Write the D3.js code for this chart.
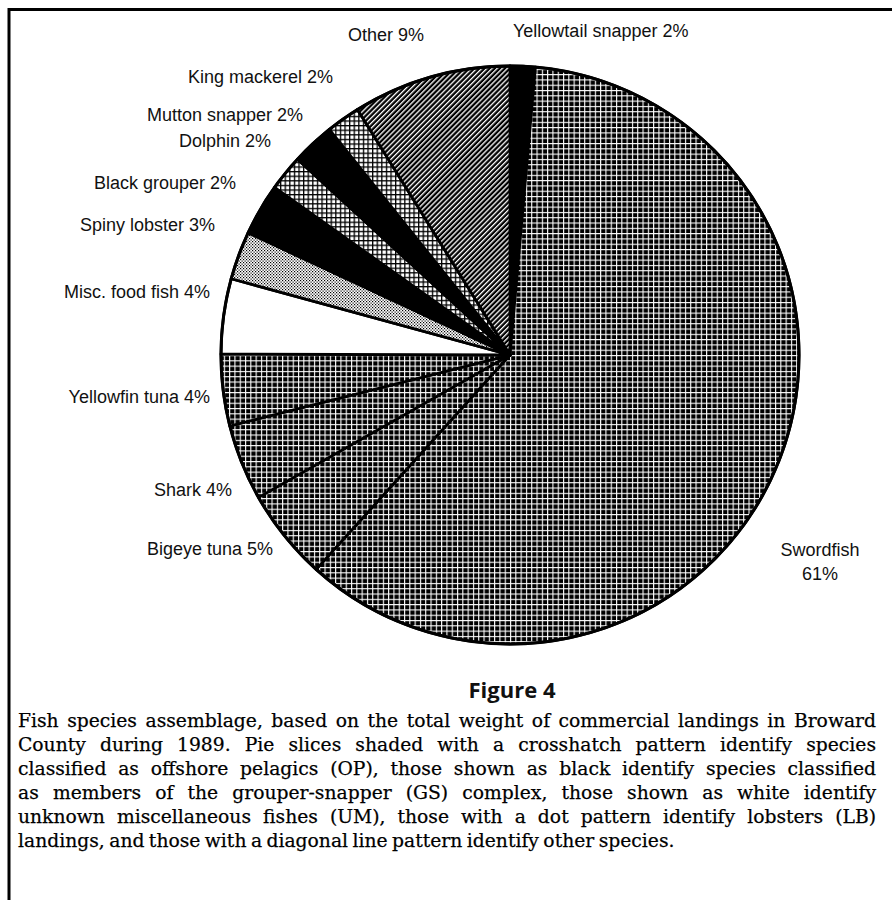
<!DOCTYPE html>
<html><head><meta charset="utf-8">
<script src="https://cdn.jsdelivr.net/npm/d3@7"></script>
<style>body{margin:0;background:#fff} svg{display:block}</style>
</head><body><svg id="c" width="892" height="900"></svg>
<script>
// ---- data ----
const species = ["Yellowtail snapper","Swordfish","Bigeye tuna","Shark","Yellowfin tuna","Misc. food fish","Spiny lobster","Black grouper","Dolphin","Mutton snapper","King mackerel","Other"];
const weights = [1.4, 60.3, 5.1, 4.25, 4.0, 4.2, 2.7, 2.9, 2.0, 2.4, 1.9, 8.85];
const pctLabels = [2, 61, 5, 4, 4, 4, 3, 2, 2, 2, 2, 9];
const groups = ["GS","OP","OP","OP","OP","UM","LB","GS","OP","GS","OP","OT"];
const figureTitle = "Figure 4";
const captionLines = [
  "Fish species assemblage, based on the total weight of commercial landings in Broward",
  "County during 1989. Pie slices shaded with a crosshatch pattern identify species",
  "classified as offshore pelagics (OP), those shown as black identify species classified",
  "as members of the grouper-snapper (GS) complex, those shown as white identify",
  "unknown miscellaneous fishes (UM), those with a dot pattern identify lobsters (LB)",
  "landings, and those with a diagonal line pattern identify other species."
];

// ---- layout ----
const W = 892, H = 900;
const cx = 510, cy = 355, R = 289;
// label anchor: [x, y, anchor]
const labelLayout = [
  [513, 37, "start"],   // Yellowtail
  [820, 556, "middle"], // Swordfish (two lines)
  [273, 555, "end"],    // Bigeye
  [232, 496, "end"],    // Shark
  [210, 403, "end"],    // Yellowfin
  [210, 298, "end"],    // Misc
  [215, 231, "end"],    // Spiny
  [236, 189, "end"],    // Black grouper
  [271, 147, "end"],    // Dolphin
  [303, 121, "end"],    // Mutton
  [333, 83, "end"],     // King
  [424, 41, "end"]      // Other
];
const fillByIndex = ["#000","url(#hd)","url(#hd)","url(#hd)","url(#hd)","#fff","url(#dots)","#000","url(#hl)","#000","url(#hl)","url(#diag)"];

const svg = d3.select("#c");
svg.append("rect").attr("width",W).attr("height",H).attr("fill","#fff");
const defs = svg.append("defs");

// dense crosshatch (dark)
let p = defs.append("pattern").attr("id","hd").attr("patternUnits","userSpaceOnUse").attr("width",5.3).attr("height",5.3);
p.append("rect").attr("width",5.3).attr("height",5.3).attr("fill","#000");
p.append("rect").attr("width",5.3).attr("height",1.1).attr("fill","#fff");
p.append("rect").attr("width",1.1).attr("height",5.3).attr("fill","#fff");
// lighter crosshatch
p = defs.append("pattern").attr("id","hl").attr("patternUnits","userSpaceOnUse").attr("width",4.6).attr("height",4.6);
p.append("rect").attr("width",4.6).attr("height",4.6).attr("fill","#fff");
p.append("rect").attr("width",4.6).attr("height",1.3).attr("fill","#000");
p.append("rect").attr("width",1.3).attr("height",4.6).attr("fill","#000");
// dots
p = defs.append("pattern").attr("id","dots").attr("patternUnits","userSpaceOnUse").attr("width",3).attr("height",3);
p.append("rect").attr("width",3).attr("height",3).attr("fill","#fff");
p.append("rect").attr("x",0).attr("y",0).attr("width",1.2).attr("height",1.2).attr("fill","#000");
p.append("rect").attr("x",1.5).attr("y",1.5).attr("width",1.2).attr("height",1.2).attr("fill","#000");
// diagonal lines
p = defs.append("pattern").attr("id","diag").attr("patternUnits","userSpaceOnUse").attr("width",3.6).attr("height",3.6).attr("patternTransform","rotate(45)");
p.append("rect").attr("width",3.6).attr("height",3.6).attr("fill","#000");
p.append("rect").attr("width",1.3).attr("height",3.6).attr("fill","#fff");

// frame
svg.append("line").attr("x1",8).attr("x2",W).attr("y1",9.5).attr("y2",9.5).attr("stroke","#000").attr("stroke-width",3);
svg.append("line").attr("x1",9).attr("x2",9).attr("y1",8).attr("y2",H).attr("stroke","#000").attr("stroke-width",3);

// pie
const pie = d3.pie().sort(null).value(d => d).startAngle(0).endAngle(2*Math.PI);
const arcs = pie(weights);
const arc = d3.arc().innerRadius(0).outerRadius(R);
const gp = svg.append("g").attr("transform",`translate(${cx},${cy})`);
gp.selectAll("path.s").data(arcs).join("path").attr("class","s")
  .attr("d",arc).attr("fill",(d,i)=>fillByIndex[i])
  .attr("stroke","#000").attr("stroke-width",2.8).attr("stroke-linejoin","round");
gp.append("circle").attr("r",R).attr("fill","none").attr("stroke","#000").attr("stroke-width",3);

// labels
const gl = svg.append("g").attr("font-family","'Liberation Sans', Arial, sans-serif").attr("font-size",18).attr("fill","#111");
species.forEach((s,i)=>{
  const [x,y,a] = labelLayout[i];
  if (i===1) {
    gl.append("text").attr("x",x).attr("y",y).attr("text-anchor",a).text(s);
    gl.append("text").attr("x",x).attr("y",y+24).attr("text-anchor",a).text(pctLabels[i]+"%");
  } else {
    gl.append("text").attr("x",x).attr("y",y).attr("text-anchor",a).text(`${s} ${pctLabels[i]}%`);
  }
});

// caption
svg.append("text").attr("x",512).attr("y",698).attr("text-anchor","middle")
  .attr("font-family","'Open Sans', 'Liberation Sans', sans-serif").attr("font-weight","bold")
  .attr("font-size",22).attr("fill","#111").text(figureTitle);

const gc = svg.append("g").attr("font-family","'DejaVu Serif', serif").attr("fill","#000")
  .attr("stroke","#000").attr("stroke-width",0.25);
const x0 = 18, x1 = 876, capY0 = 727, capDy = 24;
function measure(str, size){
  const t = gc.append("text").attr("font-size",size).text(str);
  const w = t.node().getComputedTextLength(); t.remove(); return w;
}
const baseFs = 16;
const maxW = d3.max(captionLines.slice(0,5), l => measure(l, baseFs));
const fs = baseFs*(x1-x0)*0.965/maxW;
const last = captionLines.length-1;
captionLines.forEach((line,i)=>{
  const t = gc.append("text").attr("x",x0).attr("y",capY0+i*capDy).attr("font-size",fs).text(line);
  const n = line.split(" ").length-1;
  if (i < last) {
    const nat = t.node().getComputedTextLength();
    t.style("word-spacing", ((x1-x0-nat)/n)+"px");
  } else {
    t.style("word-spacing", "-1.5px");
  }
});
</script>
</body></html>
